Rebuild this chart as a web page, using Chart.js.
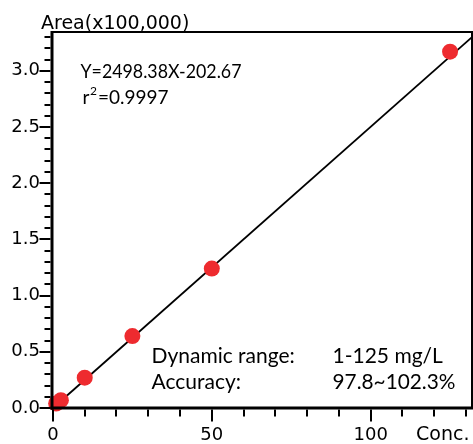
<!DOCTYPE html>
<html>
<head>
<meta charset="utf-8">
<script src="https://cdn.jsdelivr.net/npm/chart.js"></script>
<style>body{margin:0;background:#fff}</style>
</head>
<body>
<canvas id="cal" width="473" height="444"></canvas>
<script>
// calibration points (conc in mg/L, area in x100,000)
const concs=[1,2.5,10,25,50,125];
const areas=[0.04,0.07,0.27,0.64,1.24,3.17];
// regression line ends
const fitX=[0,131.9];
const fitY=[0,3.30];
const xMajor=[0,50,100];
const yMajor=[0,0.5,1,1.5,2,2.5,3];
const xMinorStep=10;
const yMinorStep=0.1;

const tickFont={family:"DejaVu Sans",size:18};

const framePlugin={
  id:"frame",
  afterDraw(chart){
    const ctx=chart.ctx, a=chart.chartArea;
    const xs=chart.scales.x, ys=chart.scales.y;
    ctx.save();
    ctx.fillStyle="#000";
    // box: thin top/right, heavy left/bottom
    ctx.fillRect(a.left,a.top-1,a.right-a.left+1,2);
    ctx.fillRect(a.right-1,a.top-1,2,a.bottom-a.top+1);
    ctx.fillRect(a.left-1.5,a.top-1,3,a.bottom-a.top+2.5);
    ctx.fillRect(a.left-1.5,a.bottom-1.5,a.right-a.left+2.5,3);
    // tick marks
    ys.ticks.forEach(t=>{
      const y=Math.round(ys.getPixelForValue(t.value));
      const len=yMajor.includes(Math.round(t.value*10)/10)?11:6;
      ctx.fillRect(a.left-1.5-len,y-1,len,2);
    });
    xs.ticks.forEach(t=>{
      const x=Math.round(xs.getPixelForValue(t.value));
      const len=xMajor.includes(t.value)?12:7;
      ctx.fillRect(x-1,a.bottom+1.5,2,len);
    });
    ctx.textBaseline="alphabetic";
    ctx.font='19px "DejaVu Sans"';
    ctx.fillText("Area(x100,000)",41,29);
    ctx.fillText("Conc.",416,440);
    ctx.font='19px Lato';
    ctx.fillText("Y=2498.38X-202.67",80.5,78,161);
    ctx.fillText("r",82.5,104);
    ctx.font='12px Lato';
    ctx.fillText("2",90,95);
    ctx.font='19px Lato';
    ctx.fillText("=0.9997",98,104);
    ctx.font='21px Lato';
    ctx.fillText("Dynamic range:",151.5,363,150);
    ctx.fillText("Accuracy:",151.5,389);
    ctx.fillText("1-125 mg/L",332.5,363);
    ctx.fillText("97.8~102.3%",332.5,389,123);
    ctx.restore();
  }
};

new Chart("cal",{
  type:"scatter",
  data:{
    datasets:[{
      data:concs.map((c,i)=>({x:c,y:areas[i]})),
      backgroundColor:"#ee2b2f",
      borderWidth:0,
      pointRadius:8,
      clip:false
    },{
      data:fitX.map((c,i)=>({x:c,y:fitY[i]})),
      showLine:true,
      borderColor:"#000",
      borderWidth:1.8,
      pointRadius:0,
      clip:false
    }]
  },
  options:{
    responsive:false,
    animation:false,
    events:[],
    layout:{autoPadding:false,padding:{top:32,right:1,left:0,bottom:0}},
    plugins:{legend:{display:false},tooltip:{enabled:false}},
    scales:{
      x:{
        type:"linear",min:-0.3,max:131.9,
        afterFit(s){s.height=36;s.paddingLeft=0;s.paddingRight=0;},
        afterBuildTicks(s){const t=[];for(let v=0;v<=130;v+=xMinorStep)t.push({value:v});s.ticks=t;},
        grid:{display:false,drawTicks:false},
        border:{display:false},
        ticks:{padding:17,color:"#000",font:tickFont,maxRotation:0,autoSkip:false,
          callback:v=>xMajor.includes(v)?String(v):""}
      },
      y:{
        type:"linear",min:0,max:3.345,
        afterFit(s){s.width=52;s.paddingTop=0;s.paddingBottom=0;},
        afterBuildTicks(s){const t=[];for(let k=0;k<=33;k++)t.push({value:k*yMinorStep});s.ticks=t;},
        grid:{display:false,drawTicks:false},
        border:{display:false},
        ticks:{padding:12,color:"#000",font:tickFont,autoSkip:false,
          callback:v=>{const k=Math.round(v*10);return yMajor.includes(k/10)?(k/10).toFixed(1):"";}}
      }
    }
  },
  plugins:[framePlugin]
});
</script>
</body>
</html>
